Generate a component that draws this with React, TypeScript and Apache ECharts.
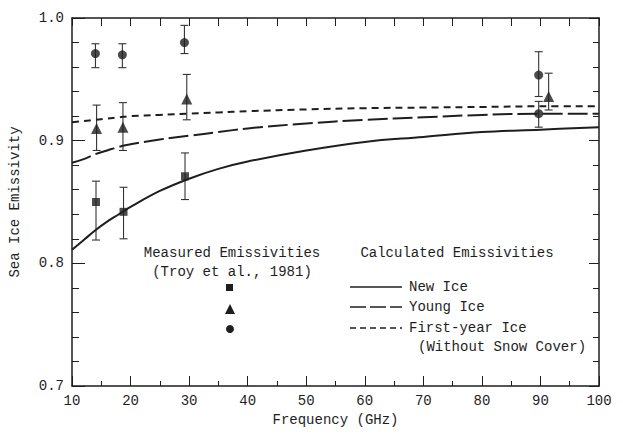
import React, { useEffect, useRef } from "react";
import * as echarts from "echarts";

// Calculated emissivity curves (frequency in GHz)
const curveFreq = [10, 12, 14, 16, 18, 20, 25, 30, 35, 40, 50, 60, 70, 80, 90, 100];
const newIce = [0.811, 0.819, 0.827, 0.834, 0.840, 0.846, 0.859, 0.869, 0.877, 0.883, 0.892, 0.899, 0.903, 0.907, 0.909, 0.911];
const youngIce = [0.882, 0.885, 0.889, 0.892, 0.895, 0.897, 0.901, 0.904, 0.907, 0.910, 0.914, 0.917, 0.919, 0.921, 0.922, 0.922];
const firstYearIce = [0.915, 0.916, 0.917, 0.918, 0.919, 0.920, 0.921, 0.922, 0.923, 0.924, 0.9255, 0.9265, 0.927, 0.9275, 0.928, 0.928];

// Measured emissivities (Troy et al., 1981)
const sqFreq = [14.1, 18.8, 29.3];
const sqVal = [0.850, 0.842, 0.871];
const sqLow = [0.819, 0.820, 0.852];
const sqHigh = [0.867, 0.862, 0.890];

const triFreq = [14.2, 18.7, 29.6, 91.4];
const triVal = [0.910, 0.911, 0.934, 0.936];
const triLow = [0.892, 0.892, 0.917, 0.925];
const triHigh = [0.929, 0.931, 0.954, 0.955];

const cirFreq = [14.0, 18.6, 29.2, 89.7, 89.7];
const cirVal = [0.971, 0.970, 0.980, 0.9535, 0.922];
const cirLow = [0.9595, 0.9595, 0.971, 0.936, 0.911];
const cirHigh = [0.979, 0.979, 0.994, 0.9725, 0.932];

const xTicks = [10, 20, 30, 40, 50, 60, 70, 80, 90, 100];
const yTicks = [0.7, 0.8, 0.9, 1.0];

const FONT = '"Liberation Mono", "DejaVu Sans Mono", monospace';
const INK = "#1e1e1e";

function pairs(xs: number[], ys: number[]) {
  return xs.map((x, i) => [x, ys[i]]);
}
function bars(xs: number[], lo: number[], hi: number[]) {
  return xs.map((x, i) => [x, lo[i], hi[i]]);
}

const errorRender = (params: any, api: any) => {
  const x = api.value(0);
  const p1 = api.coord([x, api.value(1)]);
  const p2 = api.coord([x, api.value(2)]);
  const cap = 4;
  const style = { stroke: "#333", lineWidth: 1.1 };
  return {
    type: "group",
    children: [
      { type: "line", shape: { x1: p1[0], y1: p1[1], x2: p2[0], y2: p2[1] }, style },
      { type: "line", shape: { x1: p1[0] - cap, y1: p1[1], x2: p1[0] + cap, y2: p1[1] }, style },
      { type: "line", shape: { x1: p2[0] - cap, y1: p2[1], x2: p2[0] + cap, y2: p2[1] }, style },
    ],
  };
};

export default function App() {
  const ref = useRef<HTMLDivElement>(null);
  useEffect(() => {
    if (!ref.current) return;
    document.body.style.margin = "0";
    const chart = echarts.init(ref.current, null, { renderer: "svg" });
    const axisLine = { show: true, lineStyle: { color: INK, width: 1.5 } };
    const txt = (x: number, y: number, text: string, align = "left") => ({
      type: "text",
      x,
      y,
      style: { text, font: `14px ${FONT}`, fill: INK, textAlign: align, textVerticalAlign: "middle" },
    });
    const legLine = (y: number, dash: any) => ({
      type: "line",
      shape: { x1: 350, y1: y, x2: 402, y2: y },
      style: { stroke: INK, lineWidth: 1.6, lineDash: dash },
    });
    chart.setOption({
      animation: false,
      backgroundColor: "#fff",
      grid: { left: 69, right: 24, top: 18, bottom: 48 },
      xAxis: [
        {
          type: "value",
          min: 10,
          max: 100,
          interval: 10,
          position: "bottom",
          name: "Frequency (GHz)",
          nameLocation: "middle",
          nameGap: 23,
          nameTextStyle: { fontFamily: FONT, fontSize: 14, color: INK },
          axisLine,
          axisTick: { show: true, inside: true, length: 10, lineStyle: { color: INK, width: 1 } },
          minorTick: { show: true, splitNumber: 2, length: 5, lineStyle: { color: INK, width: 1 } },
          axisLabel: { fontFamily: FONT, fontSize: 14, color: INK, margin: 8, formatter: (v: number) => (xTicks.includes(v) ? String(v) : "") },
          splitLine: { show: false },
        },
        {
          type: "value",
          min: 10,
          max: 100,
          interval: 5,
          position: "top",
          axisLine,
          axisTick: { show: true, inside: true, length: 8, lineStyle: { color: INK, width: 1 } },
          axisLabel: { show: false },
          splitLine: { show: false },
        },
      ],
      yAxis: [
        {
          type: "value",
          min: 0.7,
          max: 1.0,
          interval: 0.1,
          position: "left",
          name: "Sea Ice Emissivity",
          nameLocation: "middle",
          nameGap: 50,
          nameTextStyle: { fontFamily: FONT, fontSize: 14, color: INK },
          axisLine,
          axisTick: { show: true, inside: true, length: 13, lineStyle: { color: INK, width: 1 } },
          minorTick: { show: true, splitNumber: 5, length: 7, lineStyle: { color: INK, width: 1 } },
          axisLabel: {
            fontFamily: FONT,
            fontSize: 14,
            color: INK,
            margin: 8,
            formatter: (v: number) => {
              const t = yTicks.find((k) => Math.abs(k - v) < 1e-6);
              return t === undefined ? "" : t.toFixed(1);
            },
          },
          splitLine: { show: false },
        },
        {
          type: "value",
          min: 0.7,
          max: 1.0,
          interval: 0.1,
          position: "right",
          axisLine,
          axisTick: { show: true, inside: true, length: 10, lineStyle: { color: INK, width: 1 } },
          minorTick: { show: true, splitNumber: 5, length: 6, lineStyle: { color: INK, width: 1 } },
          axisLabel: { show: false },
          splitLine: { show: false },
        },
      ],
      series: [
        {
          name: "New Ice",
          type: "line",
          smooth: 0.4,
          showSymbol: false,
          data: pairs(curveFreq, newIce),
          lineStyle: { color: INK, width: 2 },
        },
        {
          name: "Young Ice",
          type: "line",
          smooth: 0.4,
          showSymbol: false,
          data: pairs(curveFreq, youngIce),
          lineStyle: { color: INK, width: 2, type: [20, 5] },
        },
        {
          name: "First-year Ice",
          type: "line",
          smooth: 0.4,
          showSymbol: false,
          data: pairs(curveFreq, firstYearIce),
          lineStyle: { color: INK, width: 2, type: [7, 5] },
        },
        { type: "custom", renderItem: errorRender, data: bars(sqFreq, sqLow, sqHigh), encode: { x: 0, y: [1, 2] }, z: 3 },
        { type: "custom", renderItem: errorRender, data: bars(triFreq, triLow, triHigh), encode: { x: 0, y: [1, 2] }, z: 3 },
        { type: "custom", renderItem: errorRender, data: bars(cirFreq, cirLow, cirHigh), encode: { x: 0, y: [1, 2] }, z: 3 },
        {
          name: "Measured squares",
          type: "scatter",
          symbol: "rect",
          symbolSize: 8,
          data: pairs(sqFreq, sqVal),
          itemStyle: { color: INK },
          z: 4,
        },
        {
          name: "Measured triangles",
          type: "scatter",
          symbol: "triangle",
          symbolSize: 11,
          data: pairs(triFreq, triVal),
          itemStyle: { color: INK },
          z: 4,
        },
        {
          name: "Measured circles",
          type: "scatter",
          symbol: "circle",
          symbolSize: 9,
          data: pairs(cirFreq, cirVal),
          itemStyle: { color: INK },
          z: 4,
        },
      ],
      graphic: [
        txt(232, 253, "Measured Emissivities", "center"),
        txt(232, 272, "(Troy et al., 1981)", "center"),
        { type: "rect", shape: { x: 226, y: 284, width: 7, height: 7 }, style: { fill: INK } },
        { type: "polygon", shape: { points: [[230, 304], [225, 314], [235, 314]] }, style: { fill: INK } },
        { type: "circle", shape: { cx: 230, cy: 329, r: 4 }, style: { fill: INK } },
        txt(457, 253, "Calculated Emissivities", "center"),
        legLine(287, null),
        legLine(307, [16, 4]),
        legLine(328, [6, 4]),
        txt(409, 287, "New Ice"),
        txt(409, 307, "Young Ice"),
        txt(409, 328, "First-year Ice"),
        txt(418, 347, "(Without Snow Cover)"),
      ],
    });
    return () => chart.dispose();
  }, []);
  return <div ref={ref} style={{ width: 623, height: 434 }} />;
}
